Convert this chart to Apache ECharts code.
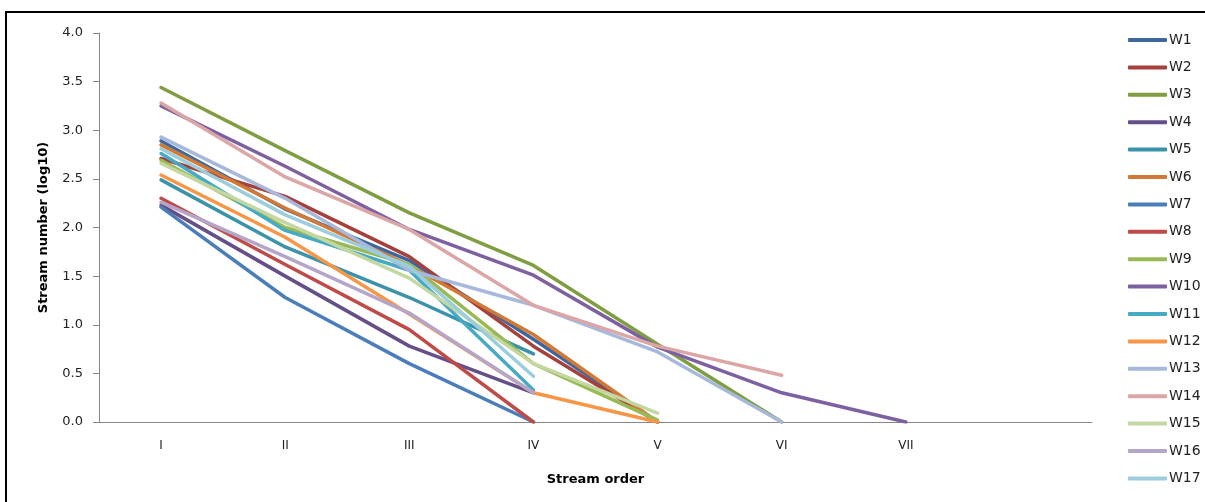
<!DOCTYPE html>
<html>
<head>
<meta charset="utf-8">
<script src="https://cdn.jsdelivr.net/npm/echarts@6/dist/echarts.min.js"></script>
<style>
  html, body { margin: 0; padding: 0; width: 1205px; height: 502px; overflow: hidden; background: #fff; }
  #frame { position: absolute; left: 5px; top: 11px; width: 1230px; height: 520px; border: 2px solid #000; box-sizing: border-box; }
  #chart { position: absolute; left: 0; top: 0; width: 1205px; height: 502px; }
</style>
</head>
<body>
<div id="frame"></div>
<div id="chart"></div>
<script>
const categories = ["I", "II", "III", "IV", "V", "VI", "VII", ""];
const yTicks = [0, 0.5, 1, 1.5, 2, 2.5, 3, 3.5, 4];

const W1  = [2.89, 2.19, 1.66, 0.85, 0];
const W2  = [2.71, 2.32, 1.70, 0.78, 0];
const W3  = [3.44, 2.79, 2.15, 1.61, 0.80, 0];
const W4  = [2.23, 1.50, 0.78, 0.30];
const W5  = [2.49, 1.80, 1.28, 0.70];
const W6  = [2.85, 2.20, 1.61, 0.90, 0];
const W7  = [2.21, 1.28, 0.60, 0];
const W8  = [2.30, 1.62, 0.95, 0];
const W9  = [2.69, 2.00, 1.62, 0.60, 0.02];
const W10 = [3.25, 2.63, 1.98, 1.51, 0.77, 0.30, 0];
const W11 = [2.76, 1.97, 1.56, 0.33];
const W12 = [2.54, 1.90, 1.11, 0.30, 0];
const W13 = [2.93, 2.30, 1.56, 1.20, 0.72, 0];
const W14 = [3.28, 2.52, 1.98, 1.20, 0.78, 0.48];
const W15 = [2.66, 2.05, 1.48, 0.60, 0.09];
const W16 = [2.26, 1.70, 1.12, 0.30];
const W17 = [2.81, 2.13, 1.60, 0.47];

const seriesNames = ["W1","W2","W3","W4","W5","W6","W7","W8","W9","W10","W11","W12","W13","W14","W15","W16","W17"];
const seriesData = [W1,W2,W3,W4,W5,W6,W7,W8,W9,W10,W11,W12,W13,W14,W15,W16,W17];
const colors = ["#3D67A0","#A5403D","#7F9E42","#654F88","#3A93AA","#D27A35",
                "#4A7EBB","#BE4B48","#98B954","#7D60A0","#46AAC5","#F79646",
                "#A7B9DA","#DBA6A5","#C4D7A0","#B5A6C9","#9BCDDC"];

const chart = echarts.init(document.getElementById('chart'), null, { renderer: 'canvas' });
const font = "'DejaVu Sans', sans-serif";

chart.setOption({
  animation: false,
  color: colors,
  grid: { left: 99, top: 33, width: 993, height: 389, containLabel: false },
  legend: {
    orient: 'vertical',
    left: 1123,
    top: 27,
    icon: 'roundRect',
    itemWidth: 39,
    itemHeight: 4,
    itemGap: 11.4,
    textStyle: { fontFamily: font, fontSize: 14, color: '#222', lineHeight: 16, padding: [0, 0, 0, -3] },
    data: seriesNames
  },
  xAxis: {
    type: 'category',
    data: categories,
    boundaryGap: true,
    name: 'Stream order',
    nameLocation: 'middle',
    nameGap: 51,
    nameTextStyle: { fontFamily: font, fontSize: 13, fontWeight: 'bold', color: '#000' },
    axisLine: { lineStyle: { color: '#868686', width: 1 } },
    axisTick: { show: false },
    axisLabel: { fontFamily: font, fontSize: 12, color: '#222', margin: 18, interval: 0 },
    splitLine: { show: false }
  },
  yAxis: {
    type: 'value',
    min: yTicks[0],
    max: yTicks[yTicks.length - 1],
    interval: 0.5,
    name: 'Stream number (log10)',
    nameLocation: 'middle',
    nameGap: 49,
    nameRotate: 90,
    nameTextStyle: { fontFamily: font, fontSize: 13, fontWeight: 'bold', color: '#000' },
    axisLine: { show: true, lineStyle: { color: '#868686', width: 1 } },
    axisTick: { show: true, inside: false, length: 6, lineStyle: { color: '#868686' } },
    axisLabel: { fontFamily: font, fontSize: 13, color: '#222', margin: 16, formatter: v => v.toFixed(1) },
    splitLine: { show: false }
  },
  series: seriesNames.map((n, i) => ({
    name: n,
    type: 'line',
    data: seriesData[i],
    symbol: 'none',
    smooth: false,
    lineStyle: { width: 3.5, color: colors[i], cap: 'round', join: 'round' },
    itemStyle: { color: colors[i] }
  }))
});
</script>
</body>
</html>
